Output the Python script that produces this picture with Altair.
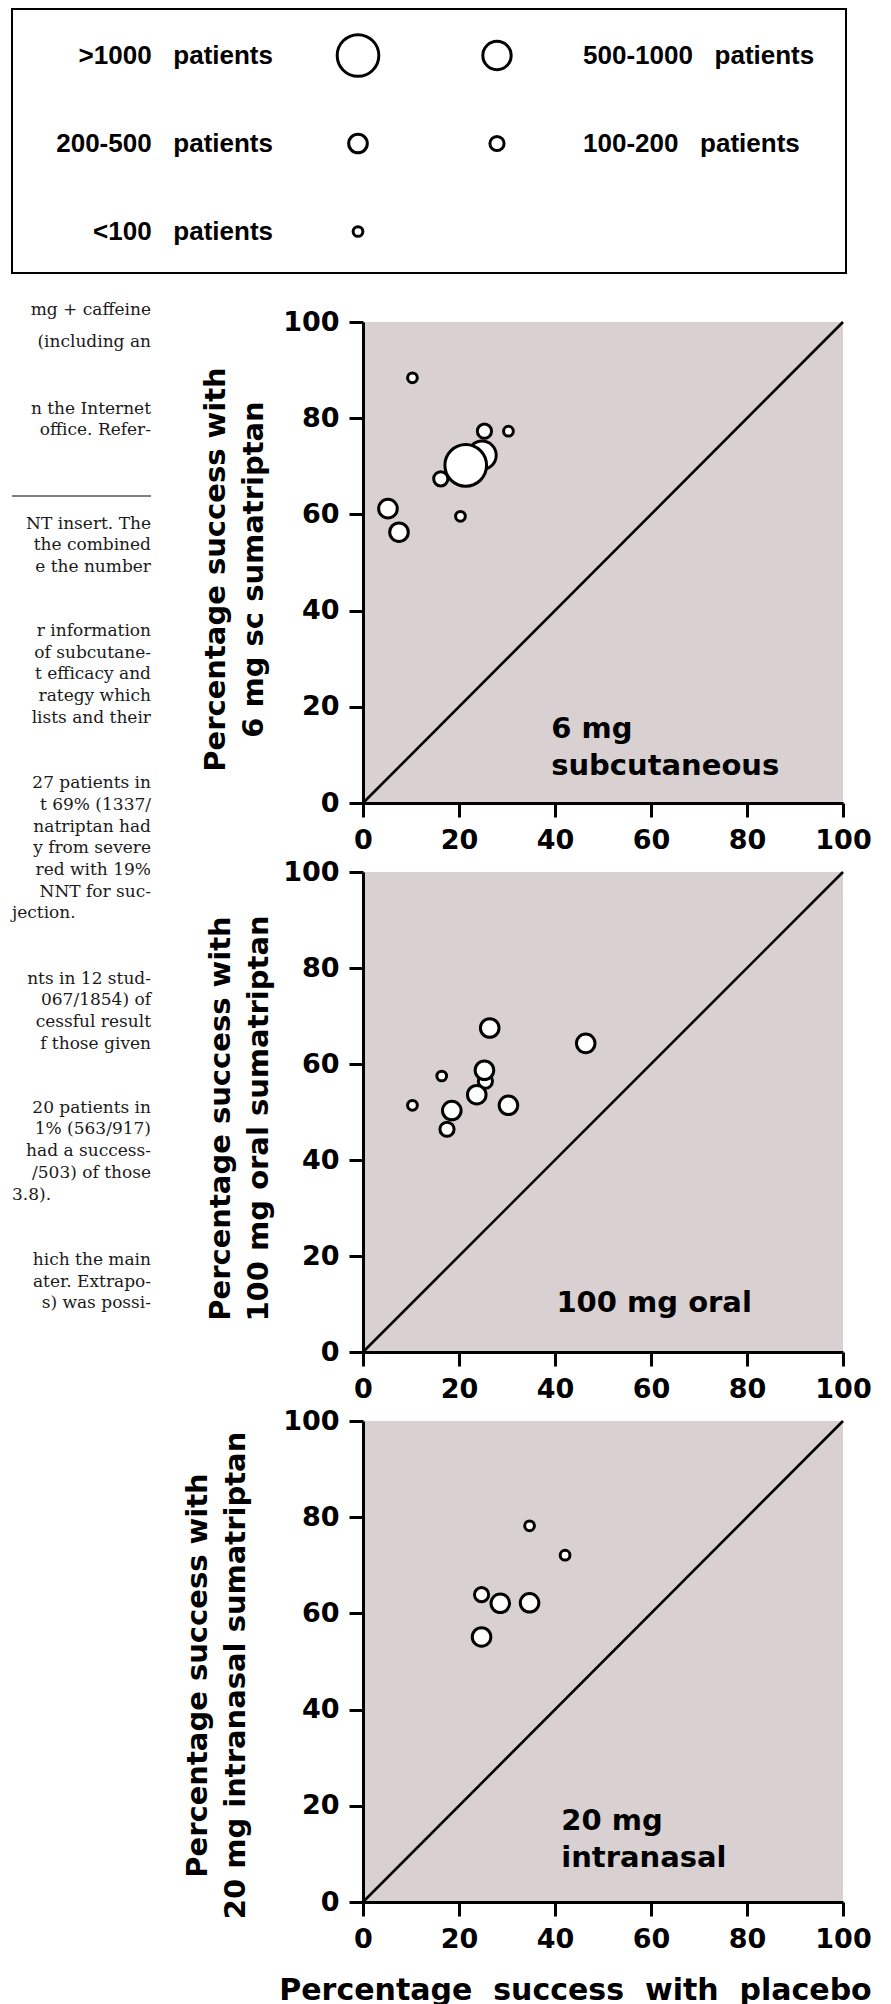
import altair as alt
import pandas as pd

# ---------------- data ----------------
SIZE_CLASSES = [">1000 patients", "500-1000 patients", "200-500 patients",
                "100-200 patients", "<100 patients"]

AXIS_TICKS = [0, 20, 40, 60, 80, 100]
IDENTITY = [0, 100]

# 6 mg subcutaneous sumatriptan
sc_placebo = [24.8, 16.2, 21.4, 10.3, 25.3, 30.3, 20.3, 5.2, 7.5]
sc_active = [72.3, 67.4, 70.2, 88.4, 77.3, 77.3, 59.6, 61.2, 56.3]
sc_class = ["500-1000 patients", "100-200 patients", ">1000 patients", "<100 patients",
            "100-200 patients", "<100 patients", "<100 patients", "200-500 patients",
            "200-500 patients"]

# 100 mg oral sumatriptan
oral_placebo = [25.5, 25.3, 16.4, 23.7, 30.3, 10.3, 17.5, 18.5, 26.4, 46.4]
oral_active = [56.4, 58.7, 57.5, 53.6, 51.4, 51.4, 46.4, 50.3, 67.5, 64.3]
oral_class = ["100-200 patients", "200-500 patients", "<100 patients", "200-500 patients",
              "200-500 patients", "<100 patients", "100-200 patients", "200-500 patients",
              "200-500 patients", "200-500 patients"]

# 20 mg intranasal sumatriptan
nasal_placebo = [34.7, 42.1, 24.7, 28.6, 34.7, 24.7]
nasal_active = [78.2, 72.1, 63.9, 62.1, 62.2, 55.1]
nasal_class = ["<100 patients", "<100 patients", "100-200 patients", "200-500 patients",
               "200-500 patients", "200-500 patients"]

# fragments of the article text visible at the left edge of the page
PAGE_LINES = ["mg + caffeine", "(including an", "n the Internet", "office. Refer-",
              "NT insert. The", "the combined", "e the number",
              "r information", "of subcutane-", "t efficacy and", "rategy which",
              "lists and their",
              "27 patients in", "t 69% (1337/", "natriptan had", "y from severe",
              "red with 19%", "NNT for suc-", "jection.",
              "nts in 12 stud-", "067/1854) of", "cessful result", "f those given",
              "20 patients in", "1% (563/917)", "had a success-", "/503) of those", "3.8).",
              "hich the main", "ater. Extrapo-", "s) was possi-"]

# ---------------- styles / layout ----------------
SIZE_AREAS = [1735, 804, 346, 201, 95]   # marker areas (px^2)
BG = "#d9d0d1"
SANS = "DejaVu Sans"
LEG_FONT = "Liberation Sans"
SERIF = "DejaVu Serif"
PW = 480
SPACING = 69
LEG_H = 244
GAP = "\u00a0 "          # wide word gap (non-breaking space + space)

PAGE_LINE_Y = [309, 341, 408, 429, 523, 544, 566, 630, 652, 673, 695, 717,
               782, 804, 826, 847, 869, 891, 912, 978, 999, 1021, 1043,
               1107, 1128, 1150, 1172, 1194, 1259, 1281, 1302]
PAGE_LINE_LEFT = ["jection.", "3.8)."]

size_scale = alt.Scale(type="ordinal", domain=SIZE_CLASSES, range=SIZE_AREAS)
one_row = alt.Data(values=[{}])


def panel(placebo, active, cls, ytitle, note, note_xy, ytitle_xy, height, xtitle=None):
    df = pd.DataFrame({"placebo": placebo, "active": active, "cls": cls})
    sc = alt.Scale(domain=[0, 100], nice=False, zero=False)
    if xtitle:
        xaxis = alt.Axis(values=AXIS_TICKS, title=xtitle.replace(" ", GAP), labelPadding=10,
                         titleX=212, titleY=97, titleBaseline="alphabetic",
                         titleAlign="center", titleFontSize=30)
    else:
        xaxis = alt.Axis(values=AXIS_TICKS, title=None, labelPadding=10)
    yaxis = alt.Axis(values=AXIS_TICKS, title=ytitle, labelPadding=10,
                     titleX=ytitle_xy[0], titleY=ytitle_xy[1],
                     titleBaseline="alphabetic", titleAlign="center",
                     titleLineHeight=38)
    diag = alt.Chart(pd.DataFrame({"placebo": IDENTITY, "active": IDENTITY})).mark_line(
        color="black", strokeWidth=2.6
    ).encode(
        x=alt.X("placebo:Q", scale=sc, axis=xaxis),
        y=alt.Y("active:Q", scale=sc, axis=yaxis),
    )
    pts = alt.Chart(df).mark_circle(
        fill="white", stroke="black", strokeWidth=3, opacity=1
    ).encode(
        x=alt.X("placebo:Q", scale=sc, axis=xaxis),
        y=alt.Y("active:Q", scale=sc, axis=yaxis),
        size=alt.Size("cls:N", scale=size_scale, legend=None),
    )
    txt = alt.Chart(one_row).mark_text(
        text=note, lineBreak="\n", align="left", baseline="alphabetic",
        font=SANS, fontWeight="bold", fontSize=29, lineHeight=37, color="black"
    ).encode(
        x=alt.datum(note_xy[0]),
        y=alt.datum(note_xy[1]),
    )
    return alt.layer(diag, pts, txt).properties(
        width=PW, height=height,
        view=alt.ViewBackground(fill=BG, stroke="transparent"),
    )


p1 = panel(sc_placebo, sc_active, sc_class,
           ["Percentage success with", "6 mg sc sumatriptan"],
           "6 mg\nsubcutaneous", (39.2, 13.6), (-139, 247), 481)
p2 = panel(oral_placebo, oral_active, oral_class,
           ["Percentage success with", "100 mg oral sumatriptan"],
           "100 mg oral", (40.3, 8.3), (-134, 246), 480)
p3 = panel(nasal_placebo, nasal_active, nasal_class,
           ["Percentage success with", "20 mg intranasal sumatriptan"],
           "20 mg\nintranasal", (41.3, 15.0), (-157, 254), 481,
           xtitle="Percentage success with placebo")

# ---------------- legend (boxed key) + page text ----------------
lx = alt.Scale(domain=[0, PW], nice=False, zero=False)
ly = alt.Scale(domain=[0, LEG_H], nice=False, zero=False, reverse=True)

left_classes = [SIZE_CLASSES[0], SIZE_CLASSES[2], SIZE_CLASSES[4]]
right_classes = [SIZE_CLASSES[1], SIZE_CLASSES[3]]
leg_rows = []
for i, c in enumerate(left_classes):
    leg_rows.append({"cls": c, "cx": -5, "tx": -90, "ry": 46.5 + 88 * i, "side": "left"})
for i, c in enumerate(right_classes):
    leg_rows.append({"cls": c, "cx": 134, "tx": 220, "ry": 46.5 + 88 * i, "side": "right"})
leg_df = pd.DataFrame(leg_rows)

box = alt.Chart(one_row).mark_rect(filled=False, color="black", strokeWidth=2).encode(
    x=alt.datum(-351, scale=lx, axis=None), x2=alt.datum(483),
    y=alt.datum(0, scale=ly, axis=None), y2=alt.datum(264),
)
leg_pts = alt.Chart(leg_df).mark_circle(
    fill="white", stroke="black", strokeWidth=3, opacity=1
).encode(
    x=alt.X("cx:Q", scale=lx, axis=None),
    y=alt.Y("ry:Q", scale=ly, axis=None),
    size=alt.Size("cls:N", scale=size_scale, legend=None),
)


def leg_text(side, align):
    return alt.Chart(leg_df).transform_filter(alt.datum.side == side).transform_calculate(
        label="replace(datum.cls, ' ', '\u00a0\u00a0 ')"
    ).mark_text(
        align=align, baseline="middle", font=LEG_FONT, fontWeight="bold", fontSize=26,
        color="black"
    ).encode(
        x=alt.X("tx:Q", scale=lx, axis=None),
        y=alt.Y("ry:Q", scale=ly, axis=None),
        text="label:N",
    )


leg_txt_l = leg_text("left", "right")
leg_txt_r = leg_text("right", "left")

page_df = pd.DataFrame({
    "line": PAGE_LINES,
    "py": [y - 8 for y in PAGE_LINE_Y],
    "px": [-351 if t in PAGE_LINE_LEFT else -212 for t in PAGE_LINES],
    "al": ["left" if t in PAGE_LINE_LEFT else "right" for t in PAGE_LINES],
})


def page_text(al):
    return alt.Chart(page_df).transform_filter(alt.datum.al == al).mark_text(
        align=al, baseline="middle", font=SERIF, fontSize=17, color="#1a1a1a"
    ).encode(
        x=alt.X("px:Q", scale=lx, axis=None),
        y=alt.Y("py:Q", scale=ly, axis=None),
        text="line:N",
    )


page_r = page_text("right")
page_l = page_text("left")
page_rule = alt.Chart(one_row).mark_rule(color="black", strokeWidth=1).encode(
    x=alt.datum(-351, scale=lx, axis=None), x2=alt.datum(-212),
    y=alt.datum(487, scale=ly, axis=None),
)

legend = alt.layer(box, leg_pts, leg_txt_l, leg_txt_r, page_r, page_l, page_rule).properties(
    width=PW, height=LEG_H,
    view=alt.ViewBackground(fill="white", stroke="transparent"),
)

chart = alt.vconcat(legend, p1, p2, p3, spacing=SPACING, bounds="flush").properties(
    padding={"left": 3, "top": 0, "right": 5, "bottom": 5},
    background="white",
).configure_view(
    strokeWidth=0
).configure_axis(
    grid=False,
    domainColor="black", domainWidth=3,
    tickColor="black", tickWidth=3, tickSize=14,
    labelFont=SANS, labelFontWeight="bold", labelFontSize=27, labelColor="black",
    labelFlush=False, labelOverlap=False, labelBound=False,
    titleFont=SANS, titleFontWeight="bold", titleFontSize=29, titleColor="black",
)

chart.save("out.html", embed_options={"renderer": "svg", "actions": False})
